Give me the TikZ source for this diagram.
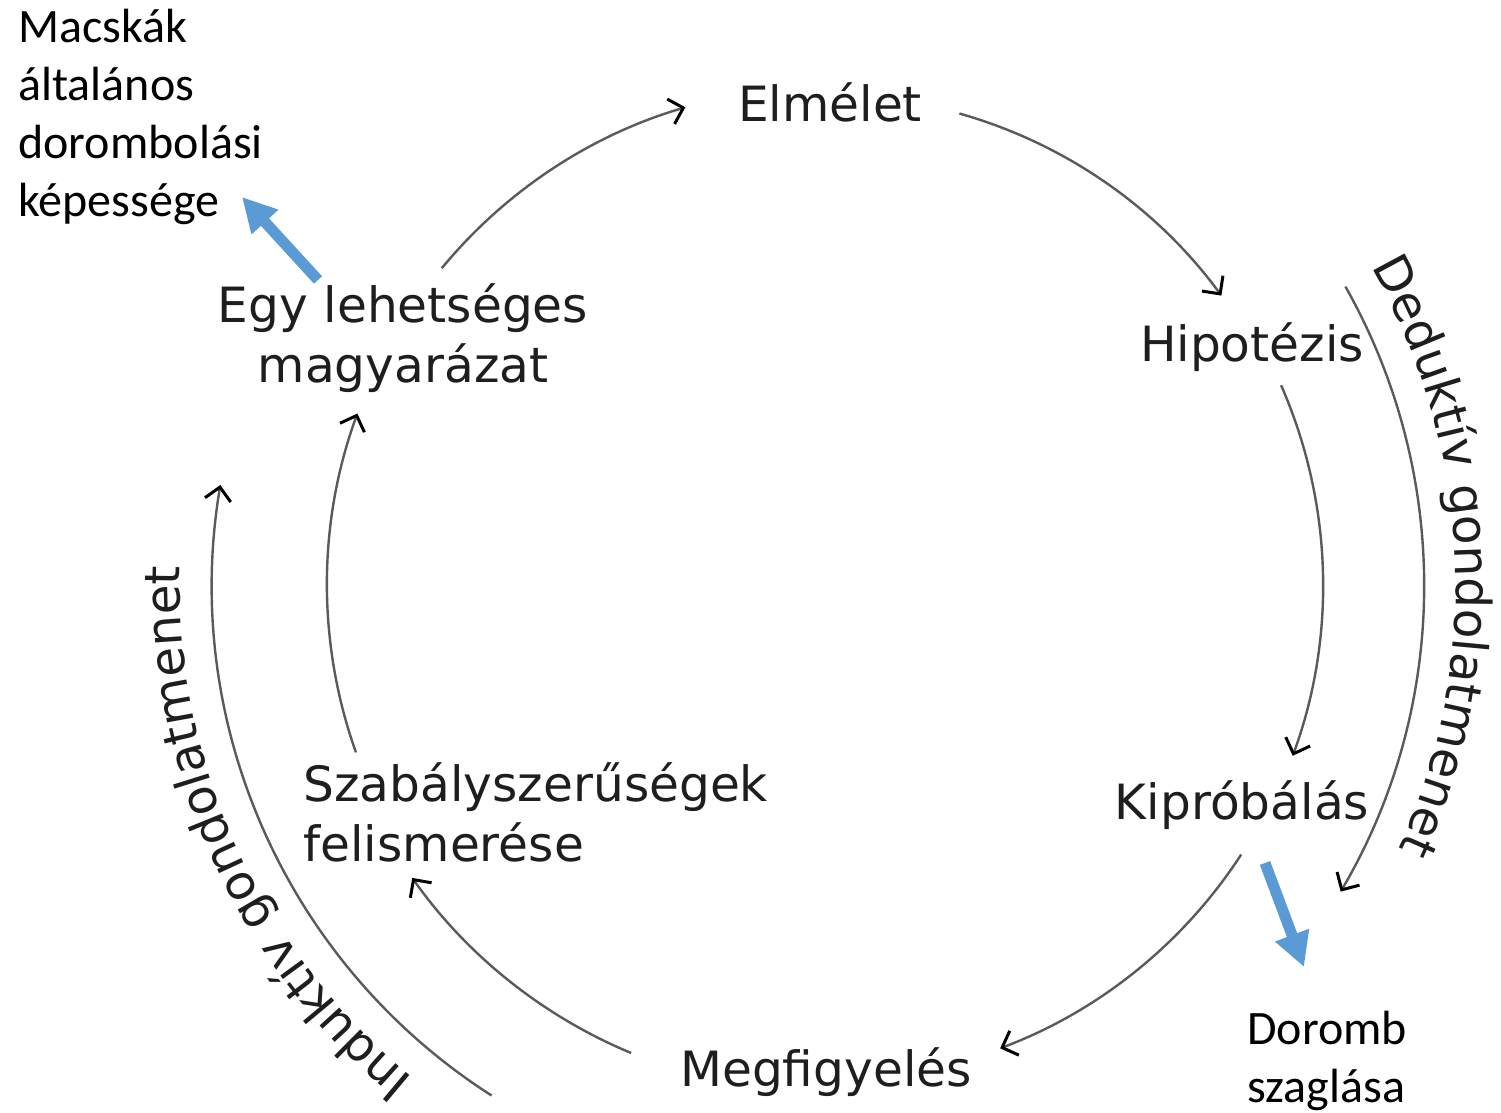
\documentclass[tikz,border=0pt]{standalone}
\usepackage{fontspec}
\usetikzlibrary{arrows.meta,decorations.text,calc}
\newfontfamily\stagefont{DejaVu Sans}
\newfontfamily\notefont{Carlito}
\definecolor{ink}{HTML}{1E1E1E}
\definecolor{arcgray}{HTML}{5A5A5A}
\definecolor{accent}{HTML}{5B9BD5}
\begin{document}
\begin{tikzpicture}[x=0.5pt,y=0.5pt,
  stage/.style={font=\stagefont\fontsize{24.3}{30}\selectfont, text=ink, inner sep=0pt, anchor=base},
  note/.style={font=\notefont\fontsize{24}{29}\selectfont, text=black, inner sep=0pt, anchor=base west, align=left},
  flow/.style={draw=arcgray, line width=1.2pt,
    -{Straight Barb[length=6.5pt,width=13pt,color=black,line width=1.5pt]}},
  hint/.style={draw=accent, line width=5.5pt, -{Triangle[length=17pt,width=17pt]}},
  along/.style={decorate, decoration={text along path, text align=center,
    text={|\stagefont\fontsize{24.3}{30}\selectfont\color{ink}|#1}}},
]
\useasboundingbox (0,0) rectangle (1501,1113);
\coordinate (ci) at (826,528);
\coordinate (co) at (818,528);

% stages of the cycle (multi-line nodes are placed by their last baseline)
\node[stage] (elmelet)  at (830,991) {Elmélet};
\node[stage] (hipotezis) at (1252,751) {Hipotézis};
\node[stage] (kiprobalas) at (1242,293) {Kipróbálás};
\node[stage] (megfigyeles) at (826,26) {Megfigyelés};
\node[stage, anchor=base west, align=left] (szabaly) at (303,251) {Szabályszerűségek\\felismerése};
\node[stage, align=center] (magyarazat) at (403,730) {Egy lehetséges\\magyarázat};

% side notes
\node[note] (macska) at (18,896) {Macskák\\általános\\dorombolási\\képessége};
\node[note] (doromb) at (1247,10) {Doromb\\szaglása};

% arc end points of the inner cycle
\coordinate (s1) at ($(ci)+(74.2:490)$);
\coordinate (s2) at ($(ci)+(23.7:497)$);
\coordinate (s3) at ($(ci)+(-33.0:495)$);
\coordinate (s4) at ($(ci)+(247.4:507)$);
\coordinate (s5) at ($(ci)+(199.6:499)$);
\coordinate (s6) at ($(ci)+(140.5:498)$);
\draw[flow] (s1) arc[start angle=74.2, end angle=36.2, radius=490];
\draw[flow] (s2) arc[start angle=23.7, end angle=-20.1, radius=497];
\draw[flow] (s3) arc[start angle=-33.0, end angle=-69.4, radius=495];
\draw[flow] (s4) arc[start angle=247.4, end angle=215.3, radius=507];
\draw[flow] (s5) arc[start angle=199.6, end angle=159.9, radius=499];
\draw[flow] (s6) arc[start angle=140.5, end angle=106.4, radius=498];

% outer arcs: deductive and inductive reasoning
\coordinate (d0) at ($(co)+(29.5:606)$);
\coordinate (i0) at ($(co)+(237.4:606)$);
\draw[flow] (d0) arc[start angle=29.5, end angle=-30.4, radius=606];
\draw[flow] (i0) arc[start angle=237.4, end angle=170.5, radius=606];

\coordinate (dt) at ($(co)+(32.75:638)$);
\coordinate (it) at ($(co)+(234.5:638)$);
\path[along={Deduktív gondolatmenet}] (dt) arc[start angle=32.75, end angle=-27.25, radius=638];
\path[along={Induktív gondolatmenet}] (it) arc[start angle=234.5, end angle=174.5, radius=638];

% blue pointers to the examples
\coordinate (h1) at (318,833);
\coordinate (h1e) at (242,916);
\coordinate (h2) at (1265,250);
\coordinate (h2e) at (1304,146);
\draw[hint] (h1) -- (h1e);
\draw[hint] (h2) -- (h2e);
\end{tikzpicture}
\end{document}
